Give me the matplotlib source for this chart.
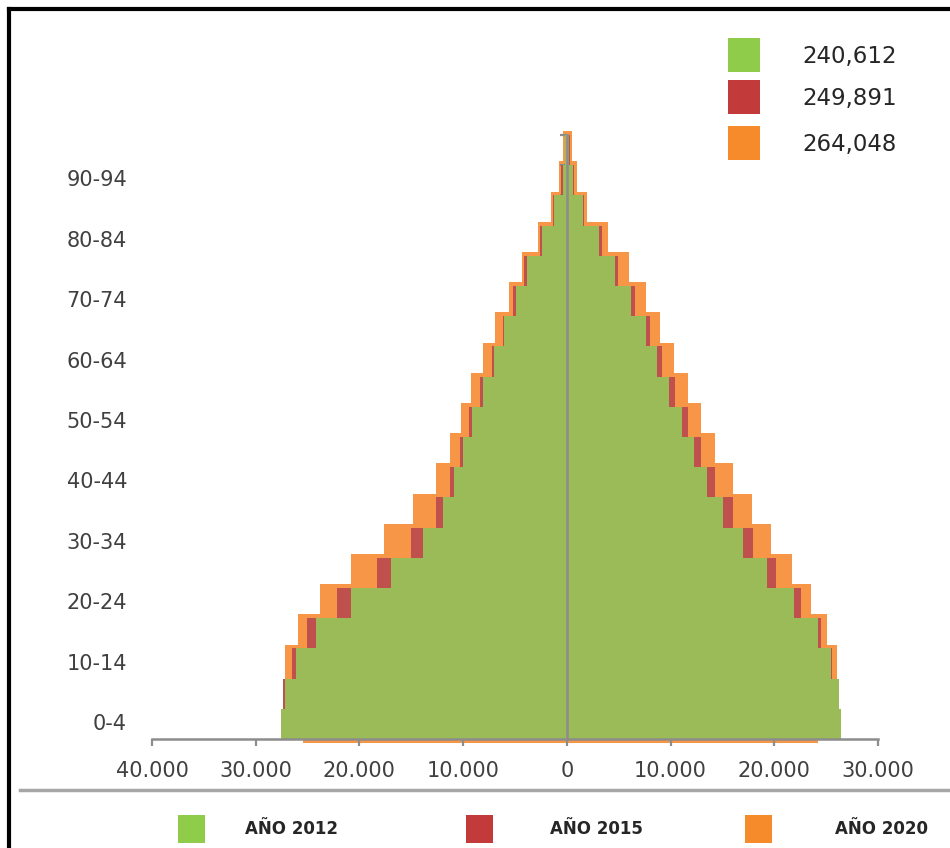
import matplotlib
matplotlib.use('Agg')
import matplotlib.pyplot as plt
from matplotlib.patches import Rectangle
from matplotlib.lines import Line2D
from matplotlib.ticker import FuncFormatter
from matplotlib.transforms import blended_transform_factory
import numpy as np

# age groups, bottom to top
ages = ['0-4', '5-9', '10-14', '15-19', '20-24', '25-29', '30-34', '35-39',
        '40-44', '45-49', '50-54', '55-59', '60-64', '65-69', '70-74',
        '75-79', '80-84', '85-89', '90-94', '95+']

# left side (thousands)
left_2012 = [27.58, 27.13, 26.13, 24.23, 20.86, 16.91, 13.86, 11.93, 10.90, 10.00,
             9.10, 8.07, 7.04, 6.04, 4.92, 3.89, 2.44, 1.22, 0.42, 0.15]
left_2015 = [26.80, 27.36, 26.50, 25.04, 22.21, 18.35, 14.98, 12.63, 11.28, 10.32,
             9.42, 8.39, 7.26, 6.20, 5.20, 4.10, 2.60, 1.35, 0.55, 0.22]
left_2020 = [25.40, 26.60, 27.13, 25.90, 23.82, 20.83, 17.62, 14.82, 12.63, 11.22,
             10.22, 9.26, 8.07, 6.94, 5.62, 4.37, 2.77, 1.57, 0.73, 0.33]

# right side (thousands)
right_2012 = [26.39, 26.26, 25.46, 24.17, 21.89, 19.29, 16.94, 15.08, 13.53, 12.28,
              11.06, 9.87, 8.72, 7.62, 6.20, 4.63, 3.12, 1.55, 0.62, 0.20]
right_2015 = [25.80, 26.00, 25.60, 24.46, 22.57, 20.15, 17.90, 15.98, 14.27, 12.89,
              11.64, 10.41, 9.16, 8.03, 6.60, 4.95, 3.40, 1.70, 0.72, 0.28]
right_2020 = [24.24, 26.00, 26.07, 25.04, 23.50, 21.67, 19.64, 17.81, 15.98, 14.27,
              12.89, 11.64, 10.30, 8.94, 7.65, 6.00, 3.92, 1.97, 0.95, 0.50]

totals = ['240,612', '249,891', '264,048']
years = ['AÑO 2012', 'AÑO 2015', 'AÑO 2020']

bar_colors = ['#9bbb59', '#c0504d', '#f79646']
key_colors = ['#8fcc4a', '#c23a3a', '#f68b2c']
axis_grey = '#8c8c8c'
text_col = '#404040'

W, H = 950, 848
fig = plt.figure(figsize=(W / 100, H / 100), dpi=100)
ax = fig.add_axes([152 / W, 1 - 739 / H, (878 - 152) / W, (739 - 135) / H])

y = np.arange(len(ages))
k = 1000.0
series = [(left_2020, right_2020, 1.25, 1),
          (left_2015, right_2015, 1.0, 2),
          (left_2012, right_2012, 1.0, 3)]
cols = [bar_colors[2], bar_colors[1], bar_colors[0]]
for (lv, rv, h, z), c in zip(series, cols):
    ax.barh(y, -np.array(lv) * k, height=h, color=c, linewidth=0, zorder=z, clip_on=False)
    ax.barh(y, np.array(rv) * k, height=h, color=c, linewidth=0, zorder=z, clip_on=False)

ax.set_xlim(-40000, 30000)
ax.set_ylim(-0.5, len(ages) - 0.5)
ax.set_xticks(np.arange(-40000, 30001, 10000))
ax.xaxis.set_major_formatter(FuncFormatter(lambda v, p: f"{abs(v):,.0f}".replace(',', '.')))
ax.set_yticks(np.arange(len(ages) + 1) - 0.5)
ax.set_yticklabels([])

for s in ['top', 'right']:
    ax.spines[s].set_visible(False)
ax.spines['left'].set_position(('data', 0))
for s in ['left', 'bottom']:
    ax.spines[s].set_color(axis_grey)
    ax.spines[s].set_linewidth(1.8)
    ax.spines[s].set_zorder(5)
ax.tick_params(axis='both', colors=axis_grey, width=1.6, length=5, direction='out')
ax.tick_params(axis='x', labelcolor=text_col, labelsize=15, pad=11)
ax.tick_params(axis='y', length=5)

# category labels at the far left, every other group
tr = blended_transform_factory(ax.transAxes, ax.transData)
for i in range(0, len(ages) - 1, 2):
    ax.text(-25 / (878 - 152), i, ages[i], transform=tr, ha='right', va='center',
            fontsize=15, color=text_col)

# top key with totals
for i, (c, t) in enumerate(zip(key_colors, totals)):
    y0 = [38, 80, 126][i]
    fig.add_artist(Rectangle((728 / W, 1 - (y0 + 34) / H), 32 / W, 34 / H,
                             transform=fig.transFigure, color=c, linewidth=0))
    fig.text(802 / W, 1 - (y0 + 19) / H, t, fontsize=16.5, color='#262626', va='center')

# separator and bottom key
fig.add_artist(Line2D([20 / W, 1.0], [1 - 790 / H] * 2, transform=fig.transFigure,
                      color='#a6a6a6', linewidth=2.5))
for c, t, xs, xt in zip(key_colors, years, [178, 466, 745], [245, 550, 835]):
    fig.add_artist(Rectangle((xs / W, 1 - 843 / H), 27 / W, 28 / H,
                             transform=fig.transFigure, color=c, linewidth=0))
    fig.text(xt / W, 1 - 829 / H, t, fontsize=12, fontweight='bold', color='#262626',
             va='center')

# frame (left and top edges of the clipped box)
fig.add_artist(Line2D([9 / W, 9 / W], [0, 1 - 9 / H], transform=fig.transFigure,
                      color='black', linewidth=3))
fig.add_artist(Line2D([9 / W, 1.0], [1 - 9 / H] * 2, transform=fig.transFigure,
                      color='black', linewidth=3, solid_capstyle='projecting'))

fig.savefig('out.png', dpi=100)
